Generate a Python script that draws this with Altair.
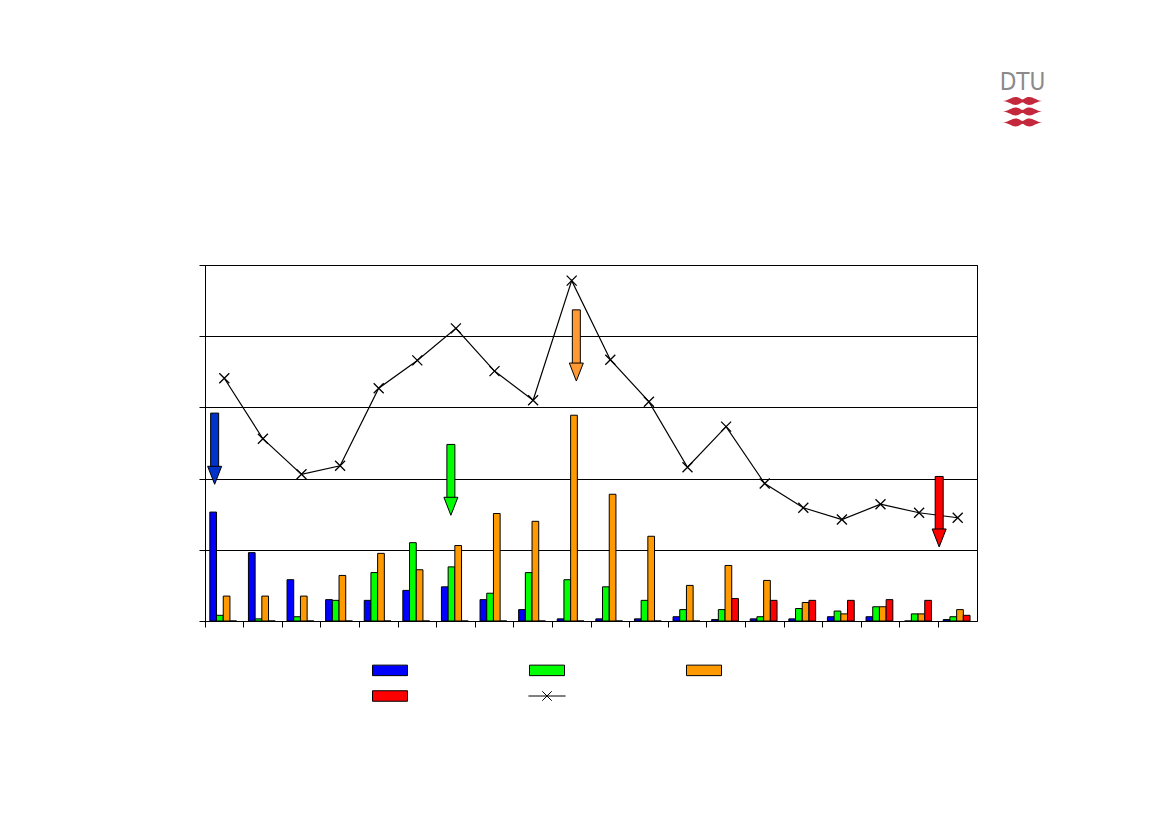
import altair as alt
import pandas as pd

# ---------------- data ----------------
categories = [str(i) for i in range(1, 21)]
series = ["Serie 1", "Serie 2", "Serie 3", "Serie 4", "Total"]
series_colors = ["#0000ff", "#00ff00", "#ff9900", "#ff0000", "#000000"]

blue = [15.3, 9.6, 5.8, 3.0, 2.9, 4.3, 4.8, 3.0, 1.6, 0.3, 0.3, 0.3, 0.6, 0.2, 0.3, 0.3, 0.6, 0.6, 0.0, 0.2]
green = [0.8, 0.3, 0.6, 2.9, 6.8, 11.0, 7.6, 3.9, 6.8, 5.8, 4.8, 2.9, 1.6, 1.6, 0.6, 1.75, 1.4, 2.0, 1.0, 0.6]
orange = [3.5, 3.5, 3.5, 6.4, 9.5, 7.2, 10.6, 15.1, 14.0, 28.9, 17.8, 11.9, 5.0, 7.8, 5.7, 2.6, 1.0, 2.0, 1.0, 1.6]
red = [0, 0, 0, 0, 0, 0, 0, 0, 0, 0, 0, 0, 0, 3.15, 2.9, 2.9, 2.9, 3.0, 2.9, 0.8]
total = [34.1, 25.6, 20.6, 21.8, 32.7, 36.6, 41.1, 35.1, 31.0, 47.8,
         36.7, 30.8, 21.6, 27.3, 19.3, 15.9, 14.25, 16.4, 15.2, 14.5]

# annotation arrows (position in category units from the left edge, value units)
arrow_pos = [0.25, 6.37, 9.62, 19.02]
arrow_top = [29.2, 24.8, 43.7, 20.3]
arrow_tip = [19.2, 14.85, 33.7, 10.4]
arrow_colors = ["#0033cc", "#00ff00", "#ff9933", "#ff0000"]
head_len = 2.2

logo_text = ["DTU"]

# ---------------- tables ----------------
rows = []
for s, vals in zip(series[:4], [blue, green, orange, red]):
    for c, v in zip(categories, vals):
        rows.append({"cat": c, "series": s, "value": v})
bars_df = pd.DataFrame(rows)
line_df = pd.DataFrame({"cat": categories, "value": total})
arrow_df = pd.DataFrame({"pos": arrow_pos, "top": arrow_top, "tip": arrow_tip,
                         "shaft_end": [t + head_len for t in arrow_tip],
                         "color": arrow_colors})
legend_df = pd.DataFrame({"series": series})

W, H = 772, 356

x_band = alt.Scale(domain=categories, paddingInner=0, paddingOuter=0)
y_scale = alt.Scale(domain=[0, 50], nice=False, zero=True)

color_scale = alt.Scale(domain=series, range=series_colors)
rect_path = "M-1,-0.3L1,-0.3L1,0.3L-1,0.3Z"
line_x_path = "M-1.06,0L1.06,0M-0.27,-0.27L0.27,0.27M-0.27,0.27L0.27,-0.27"
shape_scale = alt.Scale(domain=series, range=[rect_path] * 4 + [line_x_path])

legend = alt.Legend(orient="none", legendX=167, legendY=387, columns=3, title=None,
                    labelExpr="''", columnPadding=116, rowPadding=-1,
                    symbolSize=1225, symbolStrokeWidth=1, symbolStrokeColor="black",
                    labelOffset=0, padding=0, direction="horizontal")

bars = alt.Chart(bars_df).mark_bar(stroke="black", strokeWidth=1).encode(
    x=alt.X("cat:N", scale=x_band, sort=categories,
            axis=alt.Axis(labels=False, title=None, tickSize=6, bandPosition=0,
                          grid=False, domainColor="black", tickColor="black")),
    xOffset=alt.XOffset("series:N", scale=alt.Scale(domain=series[:4], paddingInner=0,
                                                    paddingOuter=0.88, align=0.41)),
    y=alt.Y("value:Q", scale=y_scale,
            axis=alt.Axis(values=[0, 10, 20, 30, 40, 50], labels=False, title=None,
                          tickSize=6, grid=True, gridColor="black", gridWidth=1,
                          domainColor="black", tickColor="black")),
    color=alt.Color("series:N", scale=color_scale, legend=legend),
)

line = alt.Chart(line_df).mark_line(color="black", strokeWidth=1.2).encode(
    x=alt.X("cat:N", scale=x_band, sort=categories),
    y=alt.Y("value:Q", scale=y_scale),
)
markers = alt.Chart(line_df).mark_point(
    shape="M-1,-1L1,1M-1,1L1,-1", size=100, filled=False, stroke="black",
    strokeWidth=1.3, opacity=1).encode(
    x=alt.X("cat:N", scale=x_band, sort=categories),
    y=alt.Y("value:Q", scale=y_scale),
)

inner = alt.layer(bars, line, markers)

ax = alt.X("pos:Q", scale=alt.Scale(domain=[0, 20], nice=False, zero=False, padding=0),
           axis=None)
shaft = alt.Chart(arrow_df).mark_bar(size=8, stroke="black", strokeWidth=1).encode(
    x=ax,
    y=alt.Y("top:Q", scale=y_scale),
    y2="shaft_end:Q",
    color=alt.Color("color:N", scale=None),
)
head = alt.Chart(arrow_df).mark_point(
    shape="M-1,-2.571L1,-2.571L0,0Z", size=196, filled=True, stroke="black",
    strokeWidth=1, opacity=1).encode(
    x=ax,
    y=alt.Y("tip:Q", scale=y_scale),
    color=alt.Color("color:N", scale=None),
)
arrows = alt.layer(shaft, head)

legend_layer = alt.Chart(legend_df).mark_point(
    filled=True, stroke="black", strokeWidth=1, opacity=1).encode(
    shape=alt.Shape("series:N", scale=shape_scale, legend=legend),
    color=alt.Color("series:N", scale=color_scale, legend=legend),
).transform_filter("false")

# logo
logo = alt.Chart(pd.DataFrame({"t": logo_text})).mark_text(
    font="DejaVu Sans Condensed, Roboto, sans-serif", fontSize=24, color="#8a8a8a",
    align="center", baseline="alphabetic").encode(
    text="t:N", x=alt.value(817.5), y=alt.value(-175))
wave_path = ("M-1,0 C-0.7,-0.02 -0.55,-0.2 -0.35,-0.2 C-0.15,-0.2 -0.1,-0.08 0,-0.08 "
             "C0.1,-0.08 0.15,-0.2 0.35,-0.2 C0.55,-0.2 0.7,-0.02 1,0 "
             "C0.7,0.02 0.55,0.2 0.35,0.2 C0.15,0.2 0.1,0.08 0,0.08 "
             "C-0.1,0.08 -0.15,0.2 -0.35,0.2 C-0.55,0.2 -0.7,0.02 -1,0 Z")
waves = [
    alt.Chart(pd.DataFrame({"t": logo_text})).mark_point(
        shape=wave_path, size=1560, filled=True, color="#c4283c", opacity=1,
        strokeWidth=0).encode(x=alt.value(817.5), y=alt.value(yv))
    for yv in [-164, -153.5, -142.5]
]

chart = alt.layer(inner, arrows, legend_layer, logo, *waves).resolve_scale(
    x="independent"
).properties(
    width=W, height=H,
    padding={"left": 197, "top": 257, "right": 184, "bottom": 198},
    autosize=alt.AutoSizeParams(type="none"),
).configure_view(stroke="black", strokeWidth=1).configure_axis(
    domainWidth=1, tickWidth=1
)

chart.save("out.html", embed_options={"renderer": "svg", "actions": False})
